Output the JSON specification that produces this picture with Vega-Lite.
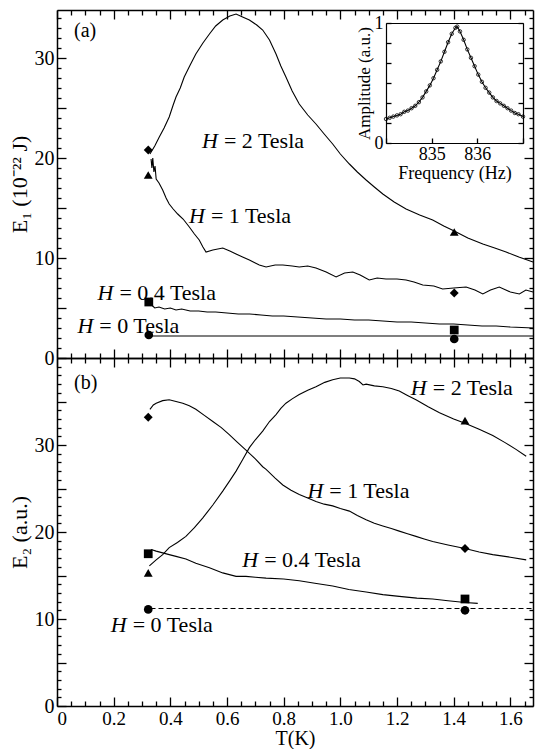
{
  "$schema": "https://vega.github.io/schema/vega-lite/v6.json",
  "background": "white",
  "padding": {"left": 8, "top": 9, "right": 2, "bottom": 1},
  "spacing": 0,
  "bounds": "flush",
  "config": {
    "font": "Liberation Serif",
    "view": {"stroke": null},
    "axis": {"grid": false, "domainColor": "black", "domainWidth": 1.5, "tickColor": "black", "tickWidth": 1.3, "labelColor": "black", "labelFont": "Liberation Serif", "labelFontSize": 20, "titleFont": "Liberation Serif", "titleFontSize": 22, "titleFontWeight": "normal", "titleColor": "black", "labelOverlap": false}
  },
  "datasets": {
    "aLines": [
      {"H":"2","T":0.328,"E":20.4},{"H":"2","T":0.345,"E":21.2},{"H":"2","T":0.361,"E":22.1},{"H":"2","T":0.378,"E":23.0},{"H":"2","T":0.396,"E":24.1},{"H":"2","T":0.41,"E":25.3},{"H":"2","T":0.42,"E":26.1},{"H":"2","T":0.435,"E":27.0},{"H":"2","T":0.449,"E":28.1},{"H":"2","T":0.47,"E":29.3},{"H":"2","T":0.49,"E":30.4},{"H":"2","T":0.515,"E":31.5},{"H":"2","T":0.538,"E":32.4},{"H":"2","T":0.56,"E":33.2},{"H":"2","T":0.585,"E":33.8},{"H":"2","T":0.61,"E":34.2},{"H":"2","T":0.632,"E":34.4},{"H":"2","T":0.655,"E":34.1},{"H":"2","T":0.679,"E":33.8},{"H":"2","T":0.705,"E":33.3},{"H":"2","T":0.726,"E":32.8},{"H":"2","T":0.75,"E":31.8},{"H":"2","T":0.773,"E":30.4},{"H":"2","T":0.79,"E":29.2},{"H":"2","T":0.808,"E":28.1},{"H":"2","T":0.83,"E":26.7},{"H":"2","T":0.855,"E":25.4},{"H":"2","T":0.885,"E":24.3},{"H":"2","T":0.914,"E":23.4},{"H":"2","T":0.943,"E":22.4},{"H":"2","T":0.973,"E":21.4},{"H":"2","T":1.0,"E":20.4},{"H":"2","T":1.032,"E":19.4},{"H":"2","T":1.06,"E":18.6},{"H":"2","T":1.091,"E":17.8},{"H":"2","T":1.12,"E":17.1},{"H":"2","T":1.15,"E":16.4},{"H":"2","T":1.19,"E":15.6},{"H":"2","T":1.232,"E":14.9},{"H":"2","T":1.28,"E":14.3},{"H":"2","T":1.326,"E":13.8},{"H":"2","T":1.365,"E":13.2},{"H":"2","T":1.402,"E":12.7},{"H":"2","T":1.45,"E":12.0},{"H":"2","T":1.503,"E":11.4},{"H":"2","T":1.545,"E":11.0},{"H":"2","T":1.585,"E":10.6},{"H":"2","T":1.63,"E":10.1},{"H":"2","T":1.68,"E":9.6},
      {"H":"1","T":0.332,"E":19.9},{"H":"1","T":0.335,"E":19.0},{"H":"1","T":0.338,"E":20.0},{"H":"1","T":0.342,"E":18.6},{"H":"1","T":0.346,"E":19.2},{"H":"1","T":0.35,"E":17.9},{"H":"1","T":0.36,"E":17.5},{"H":"1","T":0.373,"E":16.8},{"H":"1","T":0.385,"E":16.0},{"H":"1","T":0.396,"E":15.4},{"H":"1","T":0.41,"E":14.9},{"H":"1","T":0.426,"E":14.4},{"H":"1","T":0.445,"E":13.9},{"H":"1","T":0.467,"E":13.1},{"H":"1","T":0.485,"E":12.4},{"H":"1","T":0.502,"E":11.8},{"H":"1","T":0.515,"E":11.1},{"H":"1","T":0.526,"E":10.6},{"H":"1","T":0.55,"E":10.8},{"H":"1","T":0.585,"E":11.0},{"H":"1","T":0.61,"E":10.7},{"H":"1","T":0.632,"E":10.4},{"H":"1","T":0.655,"E":10.1},{"H":"1","T":0.679,"E":9.8},{"H":"1","T":0.714,"E":9.3},{"H":"1","T":0.738,"E":9.1},{"H":"1","T":0.77,"E":9.3},{"H":"1","T":0.797,"E":9.3},{"H":"1","T":0.83,"E":9.2},{"H":"1","T":0.855,"E":9.1},{"H":"1","T":0.885,"E":9.2},{"H":"1","T":0.914,"E":9.0},{"H":"1","T":0.95,"E":8.6},{"H":"1","T":0.985,"E":8.1},{"H":"1","T":1.015,"E":8.5},{"H":"1","T":1.044,"E":8.6},{"H":"1","T":1.07,"E":8.3},{"H":"1","T":1.102,"E":7.8},{"H":"1","T":1.13,"E":8.0},{"H":"1","T":1.161,"E":7.9},{"H":"1","T":1.2,"E":7.9},{"H":"1","T":1.232,"E":7.8},{"H":"1","T":1.26,"E":7.6},{"H":"1","T":1.291,"E":7.3},{"H":"1","T":1.33,"E":7.2},{"H":"1","T":1.361,"E":6.9},{"H":"1","T":1.4,"E":7.0},{"H":"1","T":1.444,"E":7.1},{"H":"1","T":1.475,"E":6.8},{"H":"1","T":1.503,"E":6.4},{"H":"1","T":1.53,"E":6.8},{"H":"1","T":1.561,"E":7.1},{"H":"1","T":1.6,"E":6.6},{"H":"1","T":1.632,"E":6.4},{"H":"1","T":1.655,"E":6.8},{"H":"1","T":1.68,"E":6.6},
      {"H":"0.4","T":0.33,"E":5.4},{"H":"0.4","T":0.345,"E":5.0},{"H":"0.4","T":0.36,"E":5.1},{"H":"0.4","T":0.38,"E":4.9},{"H":"0.4","T":0.4,"E":5.0},{"H":"0.4","T":0.42,"E":4.8},{"H":"0.4","T":0.44,"E":4.9},{"H":"0.4","T":0.47,"E":4.7},{"H":"0.4","T":0.5,"E":4.7},{"H":"0.4","T":0.53,"E":4.6},{"H":"0.4","T":0.56,"E":4.6},{"H":"0.4","T":0.6,"E":4.5},{"H":"0.4","T":0.64,"E":4.4},{"H":"0.4","T":0.68,"E":4.4},{"H":"0.4","T":0.72,"E":4.3},{"H":"0.4","T":0.76,"E":4.2},{"H":"0.4","T":0.8,"E":4.2},{"H":"0.4","T":0.85,"E":4.1},{"H":"0.4","T":0.9,"E":4.0},{"H":"0.4","T":0.95,"E":3.9},{"H":"0.4","T":1.0,"E":3.9},{"H":"0.4","T":1.05,"E":3.8},{"H":"0.4","T":1.1,"E":3.8},{"H":"0.4","T":1.15,"E":3.7},{"H":"0.4","T":1.2,"E":3.6},{"H":"0.4","T":1.25,"E":3.6},{"H":"0.4","T":1.3,"E":3.5},{"H":"0.4","T":1.35,"E":3.4},{"H":"0.4","T":1.4,"E":3.4},{"H":"0.4","T":1.45,"E":3.3},{"H":"0.4","T":1.5,"E":3.2},{"H":"0.4","T":1.55,"E":3.2},{"H":"0.4","T":1.6,"E":3.1},{"H":"0.4","T":1.68,"E":3.0},
      {"H":"0","T":0.33,"E":2.2},{"H":"0","T":1.68,"E":2.2}
    ],
    "aMarks": [
      {"M":"diamond","T":0.322,"E":20.8},{"M":"triangle","T":0.322,"E":18.3},{"M":"square","T":0.324,"E":5.6},{"M":"circle","T":0.324,"E":2.3},
      {"M":"triangle","T":1.402,"E":12.6},{"M":"diamond","T":1.402,"E":6.5},{"M":"square","T":1.402,"E":2.8},{"M":"circle","T":1.402,"E":1.9}
    ],
    "aText": [
      {"T":0.568,"E":21.7,"rest":"= 2 Tesla"},{"T":0.522,"E":14.2,"rest":"= 1 Tesla"},{"T":0.199,"E":6.5,"rest":"= 0.4 Tesla"},{"T":0.128,"E":3.2,"rest":"= 0 Tesla"}
    ],
    "inset": [
      {"f":834.0,"A":0.2},{"f":834.08,"A":0.21},{"f":834.16,"A":0.22},{"f":834.24,"A":0.23},{"f":834.32,"A":0.24},{"f":834.4,"A":0.26},{"f":834.48,"A":0.27},{"f":834.56,"A":0.29},{"f":834.64,"A":0.31},{"f":834.72,"A":0.34},{"f":834.8,"A":0.38},{"f":834.88,"A":0.43},{"f":834.96,"A":0.48},{"f":835.04,"A":0.54},{"f":835.12,"A":0.61},{"f":835.2,"A":0.68},{"f":835.28,"A":0.76},{"f":835.36,"A":0.84},{"f":835.44,"A":0.91},{"f":835.52,"A":0.96},{"f":835.56,"A":0.97},{"f":835.62,"A":0.93},{"f":835.7,"A":0.86},{"f":835.78,"A":0.78},{"f":835.86,"A":0.71},{"f":835.94,"A":0.64},{"f":836.02,"A":0.57},{"f":836.1,"A":0.51},{"f":836.18,"A":0.46},{"f":836.26,"A":0.42},{"f":836.34,"A":0.38},{"f":836.42,"A":0.35},{"f":836.5,"A":0.33},{"f":836.58,"A":0.31},{"f":836.66,"A":0.29},{"f":836.74,"A":0.27},{"f":836.82,"A":0.25},{"f":836.9,"A":0.24},{"f":837.0,"A":0.22}
    ],
    "bLines": [
      {"H":"2","T":0.326,"E":16.1},{"H":"2","T":0.35,"E":16.8},{"H":"2","T":0.373,"E":17.4},{"H":"2","T":0.396,"E":18.2},{"H":"2","T":0.425,"E":18.8},{"H":"2","T":0.455,"E":19.5},{"H":"2","T":0.485,"E":20.5},{"H":"2","T":0.514,"E":21.6},{"H":"2","T":0.55,"E":23.1},{"H":"2","T":0.585,"E":24.7},{"H":"2","T":0.61,"E":25.9},{"H":"2","T":0.632,"E":27.0},{"H":"2","T":0.655,"E":28.3},{"H":"2","T":0.679,"E":29.7},{"H":"2","T":0.7,"E":30.6},{"H":"2","T":0.726,"E":31.6},{"H":"2","T":0.75,"E":32.7},{"H":"2","T":0.773,"E":33.5},{"H":"2","T":0.79,"E":34.2},{"H":"2","T":0.808,"E":34.8},{"H":"2","T":0.83,"E":35.3},{"H":"2","T":0.855,"E":35.8},{"H":"2","T":0.885,"E":36.3},{"H":"2","T":0.914,"E":36.7},{"H":"2","T":0.945,"E":37.2},{"H":"2","T":0.973,"E":37.5},{"H":"2","T":1.0,"E":37.7},{"H":"2","T":1.032,"E":37.7},{"H":"2","T":1.05,"E":37.6},{"H":"2","T":1.067,"E":37.3},{"H":"2","T":1.08,"E":36.9},{"H":"2","T":1.091,"E":37.0},{"H":"2","T":1.12,"E":36.8},{"H":"2","T":1.15,"E":36.7},{"H":"2","T":1.18,"E":36.5},{"H":"2","T":1.208,"E":36.2},{"H":"2","T":1.237,"E":35.7},{"H":"2","T":1.267,"E":35.2},{"H":"2","T":1.31,"E":34.4},{"H":"2","T":1.35,"E":33.7},{"H":"2","T":1.4,"E":33.0},{"H":"2","T":1.44,"E":32.5},{"H":"2","T":1.49,"E":31.8},{"H":"2","T":1.538,"E":31.1},{"H":"2","T":1.58,"E":30.3},{"H":"2","T":1.62,"E":29.5},{"H":"2","T":1.656,"E":28.7},
      {"H":"1","T":0.328,"E":34.1},{"H":"1","T":0.34,"E":34.6},{"H":"1","T":0.35,"E":34.8},{"H":"1","T":0.373,"E":35.1},{"H":"1","T":0.396,"E":35.2},{"H":"1","T":0.42,"E":35.0},{"H":"1","T":0.444,"E":34.8},{"H":"1","T":0.467,"E":34.5},{"H":"1","T":0.49,"E":34.1},{"H":"1","T":0.52,"E":33.4},{"H":"1","T":0.55,"E":32.7},{"H":"1","T":0.58,"E":32.0},{"H":"1","T":0.608,"E":31.2},{"H":"1","T":0.637,"E":30.3},{"H":"1","T":0.667,"E":29.4},{"H":"1","T":0.7,"E":28.4},{"H":"1","T":0.726,"E":27.5},{"H":"1","T":0.738,"E":27.2},{"H":"1","T":0.77,"E":26.2},{"H":"1","T":0.797,"E":25.4},{"H":"1","T":0.826,"E":24.8},{"H":"1","T":0.855,"E":24.3},{"H":"1","T":0.885,"E":23.9},{"H":"1","T":0.914,"E":23.5},{"H":"1","T":0.943,"E":23.2},{"H":"1","T":0.973,"E":23.0},{"H":"1","T":1.0,"E":22.7},{"H":"1","T":1.032,"E":22.4},{"H":"1","T":1.06,"E":21.9},{"H":"1","T":1.091,"E":21.4},{"H":"1","T":1.12,"E":21.0},{"H":"1","T":1.15,"E":20.7},{"H":"1","T":1.18,"E":20.4},{"H":"1","T":1.208,"E":20.1},{"H":"1","T":1.237,"E":19.8},{"H":"1","T":1.267,"E":19.5},{"H":"1","T":1.296,"E":19.2},{"H":"1","T":1.326,"E":18.9},{"H":"1","T":1.38,"E":18.5},{"H":"1","T":1.44,"E":18.1},{"H":"1","T":1.49,"E":17.7},{"H":"1","T":1.538,"E":17.4},{"H":"1","T":1.6,"E":17.1},{"H":"1","T":1.656,"E":16.8},
      {"H":"0.4","T":0.332,"E":18.0},{"H":"0.4","T":0.35,"E":17.8},{"H":"0.4","T":0.373,"E":17.6},{"H":"0.4","T":0.396,"E":17.4},{"H":"0.4","T":0.42,"E":17.2},{"H":"0.4","T":0.455,"E":16.9},{"H":"0.4","T":0.49,"E":16.4},{"H":"0.4","T":0.538,"E":15.9},{"H":"0.4","T":0.585,"E":15.3},{"H":"0.4","T":0.632,"E":14.9},{"H":"0.4","T":0.667,"E":14.9},{"H":"0.4","T":0.7,"E":14.8},{"H":"0.4","T":0.738,"E":14.7},{"H":"0.4","T":0.8,"E":14.6},{"H":"0.4","T":0.855,"E":14.4},{"H":"0.4","T":0.91,"E":14.1},{"H":"0.4","T":0.973,"E":13.8},{"H":"0.4","T":1.03,"E":13.4},{"H":"0.4","T":1.091,"E":13.1},{"H":"0.4","T":1.15,"E":12.8},{"H":"0.4","T":1.208,"E":12.6},{"H":"0.4","T":1.27,"E":12.4},{"H":"0.4","T":1.326,"E":12.3},{"H":"0.4","T":1.38,"E":12.1},{"H":"0.4","T":1.44,"E":11.9},{"H":"0.4","T":1.485,"E":11.8},
      {"H":"0","T":0.33,"E":11.2},{"H":"0","T":1.68,"E":11.2}
    ],
    "bMarks": [
      {"M":"diamond","T":0.322,"E":33.2},{"M":"square","T":0.322,"E":17.5},{"M":"triangle","T":0.322,"E":15.3},{"M":"circle","T":0.322,"E":11.1},
      {"M":"triangle","T":1.44,"E":32.8},{"M":"diamond","T":1.44,"E":18.1},{"M":"square","T":1.44,"E":12.3},{"M":"circle","T":1.44,"E":11.0}
    ],
    "bText": [
      {"T":1.305,"E":36.6,"rest":"= 2 Tesla"},{"T":0.94,"E":24.7,"rest":"= 1 Tesla"},{"T":0.71,"E":16.8,"rest":"= 0.4 Tesla"},{"T":0.246,"E":9.3,"rest":"= 0 Tesla"}
    ]
  },
  "vconcat": [
    {
      "width": 476,
      "height": 348,
      "resolve": {"scale": {"x": "independent", "y": "independent"}, "axis": {"x": "independent", "y": "independent"}},
      "layer": [
        {
          "data": {"name": "aLines"},
          "mark": {"type": "line", "color": "black", "strokeWidth": 1.1},
          "encoding": {
            "x": {"field": "T", "type": "quantitative", "scale": {"domain": [0, 1.68], "nice": false, "zero": false},
              "axis": {"orient": "bottom", "values": [0,0.2,0.4,0.6,0.8,1,1.2,1.4,1.6], "tickSize": -9, "labels": false, "title": null}},
            "y": {"field": "E", "type": "quantitative", "scale": {"domain": [0, 34.8], "nice": false, "zero": false},
              "axis": {"orient": "left", "values": [0,5,10,15,20,25,30], "tickSize": -9, "labelExpr": "datum.value % 10 === 0 ? datum.label : ''", "labelPadding": 12, "title": "E₁ (10⁻²² J)", "titlePadding": 3}},
            "detail": {"field": "H"}
          }
        },
        {
          "data": {"name": "aMarks"},
          "mark": {"type": "point", "filled": true, "color": "black", "opacity": 1},
          "encoding": {
            "x": {"field": "T", "type": "quantitative", "scale": {"domain": [0, 1.68], "nice": false, "zero": false},
              "axis": {"orient": "top", "values": [0,0.2,0.4,0.6,0.8,1,1.2,1.4,1.6], "tickSize": -9, "labels": false, "title": null}},
            "y": {"field": "E", "type": "quantitative", "scale": {"domain": [0, 34.8], "nice": false, "zero": false},
              "axis": {"orient": "right", "values": [0,5,10,15,20,25,30], "tickSize": -9, "labels": false, "title": null}},
            "shape": {"field": "M", "type": "nominal", "scale": {"domain": ["diamond", "triangle", "square", "circle"], "range": ["diamond", "triangle-up", "square", "circle"]}, "legend": null},
            "size": {"field": "M", "type": "nominal", "scale": {"domain": ["diamond", "triangle", "square", "circle"], "range": [80, 75, 60, 32]}, "legend": null}
          }
        },
        {
          "data": {"name": "aText"},
          "mark": {"type": "text", "font": "Liberation Serif", "fontSize": 22, "fontStyle": "italic", "align": "right", "baseline": "middle", "color": "black"},
          "encoding": {
            "x": {"field": "T", "type": "quantitative", "scale": {"domain": [0, 1.68], "nice": false, "zero": false},
              "axis": {"orient": "bottom", "values": [0.05,0.1,0.15,0.25,0.3,0.35,0.45,0.5,0.55,0.65,0.7,0.75,0.85,0.9,0.95,1.05,1.1,1.15,1.25,1.3,1.35,1.45,1.5,1.55,1.65], "tickSize": -5, "domain": false, "labels": false, "title": null}},
            "y": {"field": "E", "type": "quantitative", "scale": {"domain": [0, 34.8], "nice": false, "zero": false},
              "axis": {"orient": "left", "values": [1,2,3,4,6,7,8,9,11,12,13,14,16,17,18,19,21,22,23,24,26,27,28,29,31,32,33,34], "tickSize": -4, "domain": false, "labels": false, "title": null}},
            "text": {"value": "H"}
          }
        },
        {
          "data": {"name": "aText"},
          "mark": {"type": "text", "font": "Liberation Serif", "fontSize": 22, "align": "left", "baseline": "middle", "dx": 6, "color": "black"},
          "encoding": {
            "x": {"field": "T", "type": "quantitative", "scale": {"domain": [0, 1.68], "nice": false, "zero": false},
              "axis": {"orient": "top", "values": [0.05,0.1,0.15,0.25,0.3,0.35,0.45,0.5,0.55,0.65,0.7,0.75,0.85,0.9,0.95,1.05,1.1,1.15,1.25,1.3,1.35,1.45,1.5,1.55,1.65], "tickSize": -5, "domain": false, "labels": false, "title": null}},
            "y": {"field": "E", "type": "quantitative", "scale": {"domain": [0, 34.8], "nice": false, "zero": false},
              "axis": {"orient": "right", "values": [1,2,3,4,6,7,8,9,11,12,13,14,16,17,18,19,21,22,23,24,26,27,28,29,31,32,33,34], "tickSize": -4, "domain": false, "labels": false, "title": null}},
            "text": {"field": "rest"}
          }
        },
        {
          "data": {"values": [{"T": 0.06, "E": 32.7, "txt": "(a)"}]},
          "mark": {"type": "text", "font": "Liberation Serif", "fontSize": 20, "align": "left", "baseline": "middle", "color": "black"},
          "encoding": {
            "x": {"field": "T", "type": "quantitative", "scale": {"domain": [0, 1.68], "nice": false, "zero": false}, "axis": null},
            "y": {"field": "E", "type": "quantitative", "scale": {"domain": [0, 34.8], "nice": false, "zero": false}, "axis": null},
            "text": {"field": "txt"}
          }
        },
        {
          "data": {"name": "inset"},
          "mark": {"type": "line", "color": "black", "strokeWidth": 1.1},
          "encoding": {
            "x": {"field": "f", "type": "quantitative", "scale": {"domain": [834, 837], "range": [329, 466], "nice": false, "zero": false},
              "axis": {"orient": "bottom", "offset": -215, "values": [834, 835, 836, 837], "tickSize": -5, "domainWidth": 1.2, "labelExpr": "(datum.value == 835 || datum.value == 836) ? datum.label : ''", "labelPadding": 7, "labelFontSize": 18, "title": "Frequency (Hz)", "titleFontSize": 18, "titlePadding": 1}},
            "y": {"field": "A", "type": "quantitative", "scale": {"domain": [0, 1], "range": [133, 13], "nice": false, "zero": false},
              "axis": {"orient": "left", "offset": -329, "values": [0, 0.1667, 0.3333, 0.5, 0.6667, 0.8333, 1], "tickSize": -5, "domainWidth": 1.2, "labelExpr": "datum.value == 0 ? '0' : (datum.value == 1 ? '1' : '')", "labelPadding": 8, "labelFontSize": 18, "title": "Amplitude (a.u.)", "titleFontSize": 17, "titlePadding": 1}}
          }
        },
        {
          "data": {"name": "inset"},
          "mark": {"type": "point", "filled": false, "color": "black", "size": 12, "strokeWidth": 0.8, "opacity": 1},
          "encoding": {
            "x": {"field": "f", "type": "quantitative", "scale": {"domain": [834, 837], "range": [329, 466], "nice": false, "zero": false},
              "axis": {"orient": "top", "offset": -13, "ticks": false, "labels": false, "domainWidth": 1.2, "title": null}},
            "y": {"field": "A", "type": "quantitative", "scale": {"domain": [0, 1], "range": [133, 13], "nice": false, "zero": false},
              "axis": {"orient": "right", "offset": -10, "values": [0, 0.1667, 0.3333, 0.5, 0.6667, 0.8333, 1], "tickSize": -5, "domainWidth": 1.2, "labels": false, "title": null}}
          }
        }
      ]
    },
    {
      "width": 476,
      "height": 348,
      "resolve": {"axis": {"x": "independent", "y": "independent"}},
      "layer": [
        {
          "data": {"name": "bLines"},
          "transform": [{"filter": "datum.H !== '0'"}],
          "mark": {"type": "line", "color": "black", "strokeWidth": 1.1},
          "encoding": {
            "x": {"field": "T", "type": "quantitative", "scale": {"domain": [0, 1.68], "nice": false, "zero": false},
              "axis": {"orient": "bottom", "values": [0,0.2,0.4,0.6,0.8,1,1.2,1.4,1.6], "tickSize": -9, "labelExpr": "datum.value == 0 ? '0' : format(datum.value, '.1f')", "labelPadding": 12, "labelFontSize": 19, "title": "T(K)", "titleFontSize": 20, "titlePadding": 0}},
            "y": {"field": "E", "type": "quantitative", "scale": {"domain": [0, 40], "nice": false, "zero": false},
              "axis": {"orient": "left", "values": [0,5,10,15,20,25,30,35], "tickSize": -9, "labelExpr": "datum.value % 10 === 0 ? datum.label : ''", "labelPadding": 12, "title": "E₂ (a.u.)", "titlePadding": 3}},
            "detail": {"field": "H"}
          }
        },
        {
          "data": {"name": "bLines"},
          "transform": [{"filter": "datum.H === '0'"}],
          "mark": {"type": "line", "color": "black", "strokeWidth": 1.1, "strokeDash": [5, 3]},
          "encoding": {
            "x": {"field": "T", "type": "quantitative",
              "axis": {"orient": "bottom", "values": [0.05,0.1,0.15,0.25,0.3,0.35,0.45,0.5,0.55,0.65,0.7,0.75,0.85,0.9,0.95,1.05,1.1,1.15,1.25,1.3,1.35,1.45,1.5,1.55,1.65], "tickSize": -5, "domain": false, "labels": false, "title": null}},
            "y": {"field": "E", "type": "quantitative",
              "axis": {"orient": "left", "values": [1,2,3,4,6,7,8,9,11,12,13,14,16,17,18,19,21,22,23,24,26,27,28,29,31,32,33,34,36,37,38,39], "tickSize": -4, "domain": false, "labels": false, "title": null}}
          }
        },
        {
          "data": {"name": "bMarks"},
          "mark": {"type": "point", "filled": true, "color": "black", "opacity": 1},
          "encoding": {
            "x": {"field": "T", "type": "quantitative",
              "axis": {"orient": "top", "values": [0,0.2,0.4,0.6,0.8,1,1.2,1.4,1.6], "tickSize": -9, "labels": false, "title": null}},
            "y": {"field": "E", "type": "quantitative",
              "axis": {"orient": "right", "values": [0,5,10,15,20,25,30,35], "tickSize": -9, "labels": false, "title": null}},
            "shape": {"field": "M", "type": "nominal", "scale": {"domain": ["diamond", "triangle", "square", "circle"], "range": ["diamond", "triangle-up", "square", "circle"]}, "legend": null},
            "size": {"field": "M", "type": "nominal", "scale": {"domain": ["diamond", "triangle", "square", "circle"], "range": [80, 75, 60, 32]}, "legend": null}
          }
        },
        {
          "data": {"name": "bText"},
          "mark": {"type": "text", "font": "Liberation Serif", "fontSize": 22, "fontStyle": "italic", "align": "right", "baseline": "middle", "color": "black"},
          "encoding": {
            "x": {"field": "T", "type": "quantitative",
              "axis": {"orient": "top", "values": [0.05,0.1,0.15,0.25,0.3,0.35,0.45,0.5,0.55,0.65,0.7,0.75,0.85,0.9,0.95,1.05,1.1,1.15,1.25,1.3,1.35,1.45,1.5,1.55,1.65], "tickSize": -5, "domain": false, "labels": false, "title": null}},
            "y": {"field": "E", "type": "quantitative",
              "axis": {"orient": "right", "values": [1,2,3,4,6,7,8,9,11,12,13,14,16,17,18,19,21,22,23,24,26,27,28,29,31,32,33,34,36,37,38,39], "tickSize": -4, "domain": false, "labels": false, "title": null}},
            "text": {"value": "H"}
          }
        },
        {
          "data": {"name": "bText"},
          "mark": {"type": "text", "font": "Liberation Serif", "fontSize": 22, "align": "left", "baseline": "middle", "dx": 6, "color": "black"},
          "encoding": {
            "x": {"field": "T", "type": "quantitative", "axis": null},
            "y": {"field": "E", "type": "quantitative", "axis": null},
            "text": {"field": "rest"}
          }
        },
        {
          "data": {"values": [{"T": 0.06, "E": 37.1, "txt": "(b)"}]},
          "mark": {"type": "text", "font": "Liberation Serif", "fontSize": 20, "align": "left", "baseline": "middle", "color": "black"},
          "encoding": {
            "x": {"field": "T", "type": "quantitative", "axis": null},
            "y": {"field": "E", "type": "quantitative", "axis": null},
            "text": {"field": "txt"}
          }
        }
      ]
    }
  ]
}
